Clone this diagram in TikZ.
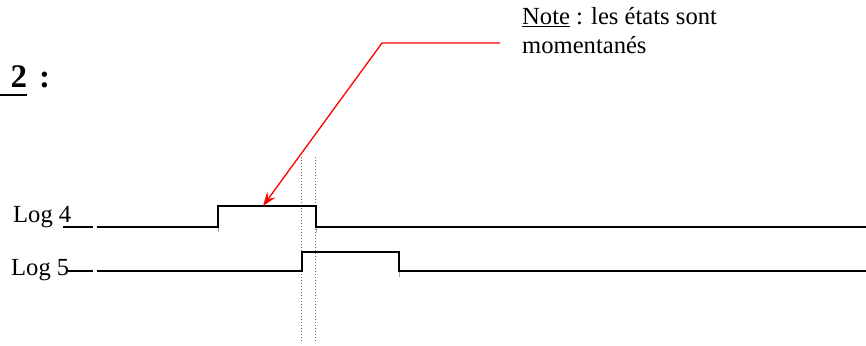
\documentclass[tikz,border=0pt]{standalone}
\usepackage{fontspec}
\setmainfont{Liberation Serif}
\usetikzlibrary{arrows.meta}
\begin{document}
\begin{tikzpicture}[x=1pt,y=-1pt,
  sig/.style={line width=2.2pt, line join=miter},
  lab/.style={inner sep=0pt, anchor=base west, font=\fontsize{24.6}{28}\selectfont},
  head/.style={inner sep=0pt, anchor=base west, font=\fontsize{33}{38}\selectfont\bfseries},
  guide/.style={black!60, line width=0.7pt, dash pattern=on 1pt off 2pt},
  tick/.style={black!35, line width=0.8pt},
  note/.style={red, line width=1.3pt}]
\useasboundingbox (0,0) rectangle (866,345);

% heading
\node[head] (h2) at (10.5,87) {2};
\node[head] (hcol) at (39,87) {:};
\coordinate (ul0) at (0,94.5);
\coordinate (ul1) at (27,94.5);
\draw[line width=2pt] (ul0) -- (ul1);

% note
\node[lab] (note1) at (522,25) {\underline{Note} : les états sont};
\node[lab] (note2) at (522,53.3) {momentanés};

% labels
\node[lab] (log4) at (13,222.3) {Log 4};
\node[lab] (log5) at (11,275) {Log 5};

% guides
\coordinate (g1t) at (301,157);
\coordinate (g1b) at (301,342);
\coordinate (g2t) at (315.7,157);
\coordinate (g2b) at (315.7,342);
\draw[guide] (g1t) -- (g1b);
\draw[guide] (g2t) -- (g2b);

% small grey ticks
\draw[tick] (218.3,226) -- (218.3,232);
\draw[tick] (316,226) -- (316,232);
\draw[tick] (399,270) -- (399,277);

% Log 4 trace
\draw[sig] (63.3,226.7) -- (93.3,226.7);
\draw[sig] (96.7,226.7) -- (218.3,226.7) -- (218.3,206) -- (316,206) -- (316,226.7) -- (866,226.7);

% Log 5 trace
\draw[sig] (66.7,271) -- (93.3,271);
\draw[sig] (96.7,271) -- (301.7,271) -- (301.7,252) -- (399,252) -- (399,271) -- (866,271);

% red arrow
\coordinate (n1) at (500,43);
\coordinate (n2) at (382,43);
\coordinate (n3) at (263,206);
\draw[note,-{Stealth[length=14pt,width=10pt,inset=5pt]}] (n1) -- (n2) -- (n3);
\end{tikzpicture}
\end{document}
